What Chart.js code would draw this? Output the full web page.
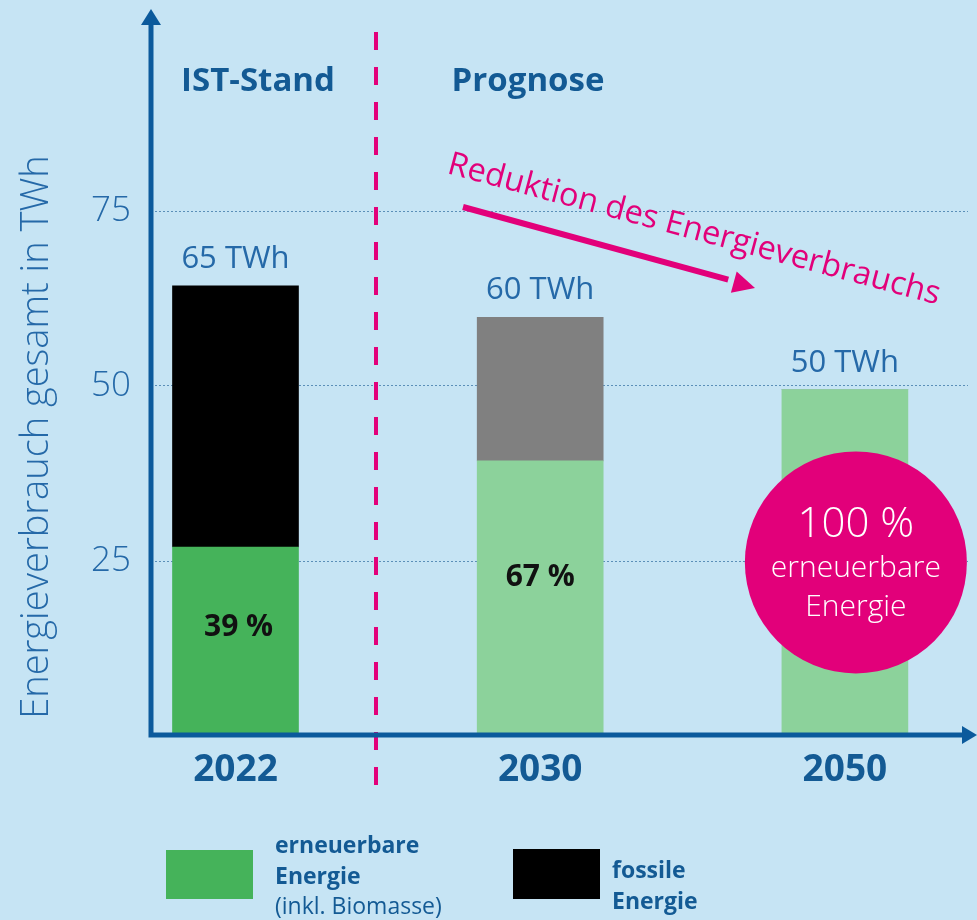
<!DOCTYPE html>
<html lang="de">
<head>
<meta charset="utf-8">
<title>Energieverbrauch gesamt</title>
<script src="https://cdn.jsdelivr.net/npm/chart.js@4"></script>
<style>
  html, body { margin: 0; padding: 0; background: #c6e4f4; }
  canvas { display: block; }
</style>
</head>
<body>
<canvas id="diagram" width="977" height="920"></canvas>
<script>
const years = ['2022', '2030', '2050'];
const renewable = [27.0, 39.3, 49.5];
const fossil = [37.3, 20.5, 0];
const totalLabels = ['65 TWh', '60 TWh', '50 TWh'];
const shareLabels = ['39 %', '67 %', '100 %'];
const yTicks = [25, 50, 75];

const FONT = "'Open Sans', sans-serif";
const darkBlue = '#135a94';
const midBlue = '#2569a8';
const axisBlue = '#0b5a9c';
const pink = '#e2007a';
const greenDark = '#45b35a';
const greenLight = '#8cd29b';

const decor = {
    id: 'decor',
    afterDatasetsDraw(chart) {
        const { ctx, chartArea: a, scales: { x, y } } = chart;
        ctx.save();

        // dashed divider between IST and Prognose
        ctx.strokeStyle = pink;
        ctx.lineWidth = 4;
        ctx.setLineDash([18, 17]);
        ctx.beginPath();
        ctx.moveTo(376, 32);
        ctx.lineTo(376, 802);
        ctx.stroke();
        ctx.setLineDash([]);

        // axes with arrow heads
        const y0 = y.getPixelForValue(0) - 1;
        ctx.strokeStyle = axisBlue;
        ctx.fillStyle = axisBlue;
        ctx.lineWidth = 5;
        ctx.beginPath();
        ctx.moveTo(a.left, 22);
        ctx.lineTo(a.left, y0);
        ctx.lineTo(966, y0);
        ctx.stroke();
        ctx.beginPath();
        ctx.moveTo(a.left, 9);
        ctx.lineTo(a.left - 10, 25);
        ctx.lineTo(a.left + 10, 25);
        ctx.closePath();
        ctx.fill();
        ctx.beginPath();
        ctx.moveTo(977, y0);
        ctx.lineTo(962, y0 - 9);
        ctx.lineTo(962, y0 + 9);
        ctx.closePath();
        ctx.fill();

        // totals above bars
        ctx.fillStyle = midBlue;
        ctx.font = '400 31px ' + FONT;
        ctx.textAlign = 'center';
        ctx.textBaseline = 'alphabetic';
        totalLabels.forEach((t, i) => {
            const top = y.getPixelForValue(renewable[i] + fossil[i]);
            ctx.fillText(t, x.getPixelForValue(i), top - 18);
        });

        // share labels inside green parts
        ctx.fillStyle = '#111';
        ctx.font = '700 30px ' + FONT;
        ctx.textBaseline = 'middle';
        ctx.fillText(shareLabels[0], x.getPixelForValue(0.01), y.getPixelForValue(15.5));
        ctx.fillText(shareLabels[1], x.getPixelForValue(1.0), y.getPixelForValue(22.7));

        // 100 % circle
        const cx = x.getPixelForValue(2.036), cy = y.getPixelForValue(24.8);
        ctx.fillStyle = pink;
        ctx.beginPath();
        ctx.arc(cx, cy, 111, 0, Math.PI * 2);
        ctx.fill();
        ctx.fillStyle = '#ffffff';
        ctx.font = '300 42px ' + FONT;
        ctx.fillText(shareLabels[2], cx, cy - 37);
        ctx.font = '300 30px ' + FONT;
        ctx.fillText('erneuerbare', cx, cy + 6);
        ctx.fillText('Energie', cx, cy + 45);

        // section headers
        ctx.fillStyle = darkBlue;
        ctx.font = '700 33px ' + FONT;
        ctx.textBaseline = 'alphabetic';
        ctx.fillText('IST-Stand', 258, 91);
        ctx.fillText('Prognose', 528, 91);

        // reduction arrow
        ctx.strokeStyle = pink;
        ctx.fillStyle = pink;
        ctx.lineWidth = 6;
        const ang = Math.atan2(80, 292);
        ctx.beginPath();
        ctx.moveTo(463, 207);
        ctx.lineTo(463 + 275 * Math.cos(ang), 207 + 275 * Math.sin(ang));
        ctx.stroke();
        ctx.save();
        ctx.translate(755, 288);
        ctx.rotate(ang);
        ctx.beginPath();
        ctx.moveTo(0, 0);
        ctx.lineTo(-22, -11);
        ctx.lineTo(-22, 11);
        ctx.closePath();
        ctx.fill();
        ctx.restore();

        ctx.save();
        ctx.translate(446, 173);
        ctx.rotate(15 * Math.PI / 180);
        ctx.font = '400 32.5px ' + FONT;
        ctx.textAlign = 'left';
        ctx.fillText('Reduktion des Energieverbrauchs', 0, 0);
        ctx.restore();

        // y axis title
        ctx.save();
        ctx.translate(48, 437);
        ctx.rotate(-Math.PI / 2);
        ctx.fillStyle = midBlue;
        ctx.font = '300 38px ' + FONT;
        ctx.textAlign = 'center';
        ctx.fillText('Energieverbrauch gesamt in TWh', 0, 0);
        ctx.restore();

        // legend
        ctx.textAlign = 'left';
        ctx.fillStyle = greenDark;
        ctx.fillRect(166, 850, 87, 49);
        ctx.fillStyle = '#000';
        ctx.fillRect(513, 849, 87, 50);
        ctx.fillStyle = darkBlue;
        ctx.font = '700 23px ' + FONT;
        ctx.fillText('erneuerbare', 275, 853);
        ctx.fillText('Energie', 275, 884);
        ctx.fillText('fossile', 612, 878);
        ctx.fillText('Energie', 612, 909);
        ctx.font = '400 23px ' + FONT;
        ctx.fillText('(inkl. Biomasse)', 275, 914);

        ctx.restore();
    }
};

new Chart(
    document.getElementById('diagram'),
    {
        type: 'bar',
        data: {
            datasets: [
                {
                    label: 'erneuerbare Energie (inkl. Biomasse)',
                    data: renewable.map((v, i) => ({ x: i, y: v })),
                    backgroundColor: [greenDark, greenLight, greenLight]
                },
                {
                    label: 'fossile Energie',
                    data: fossil.map((v, i) => ({ x: i, y: v })),
                    backgroundColor: ['#000000', '#808080', '#808080']
                }
            ]
        },
        options: {
            responsive: false,
            animation: false,
            devicePixelRatio: 1,
            layout: { padding: { top: 8, right: 9, left: 0, bottom: 0 } },
            datasets: { bar: { barThickness: 126 } },
            plugins: {
                legend: { display: false },
                tooltip: { enabled: false }
            },
            scales: {
                x: {
                    type: 'linear',
                    stacked: true,
                    offset: false,
                    min: -0.2773,
                    max: 2.404,
                    afterBuildTicks: s => { s.ticks = years.map((_, i) => ({ value: i })); },
                    afterFit: s => {
                        s.height = 184;
                        s.paddingLeft = 0;
                        s.paddingRight = 0;
                    },
                    grid: { display: false, offset: false },
                    border: { display: false },
                    ticks: {
                        callback: v => years[v],
                        color: darkBlue,
                        font: { family: FONT, size: 37, weight: '700' },
                        padding: 4,
                        maxRotation: 0
                    }
                },
                y: {
                    stacked: true,
                    min: 0,
                    max: 104,
                    afterBuildTicks: s => { s.ticks = yTicks.map(v => ({ value: v })); },
                    afterFit: s => {
                        s.width = 151;
                        s.paddingTop = 0;
                        s.paddingBottom = 0;
                    },
                    grid: { color: '#5b8fb8', lineWidth: 1, drawTicks: false },
                    border: { display: false, dash: [2, 2] },
                    ticks: {
                        color: midBlue,
                        font: { family: FONT, size: 35, weight: '300' },
                        padding: 20
                    }
                }
            }
        },
        plugins: [decor]
    }
);
</script>
</body>
</html>
